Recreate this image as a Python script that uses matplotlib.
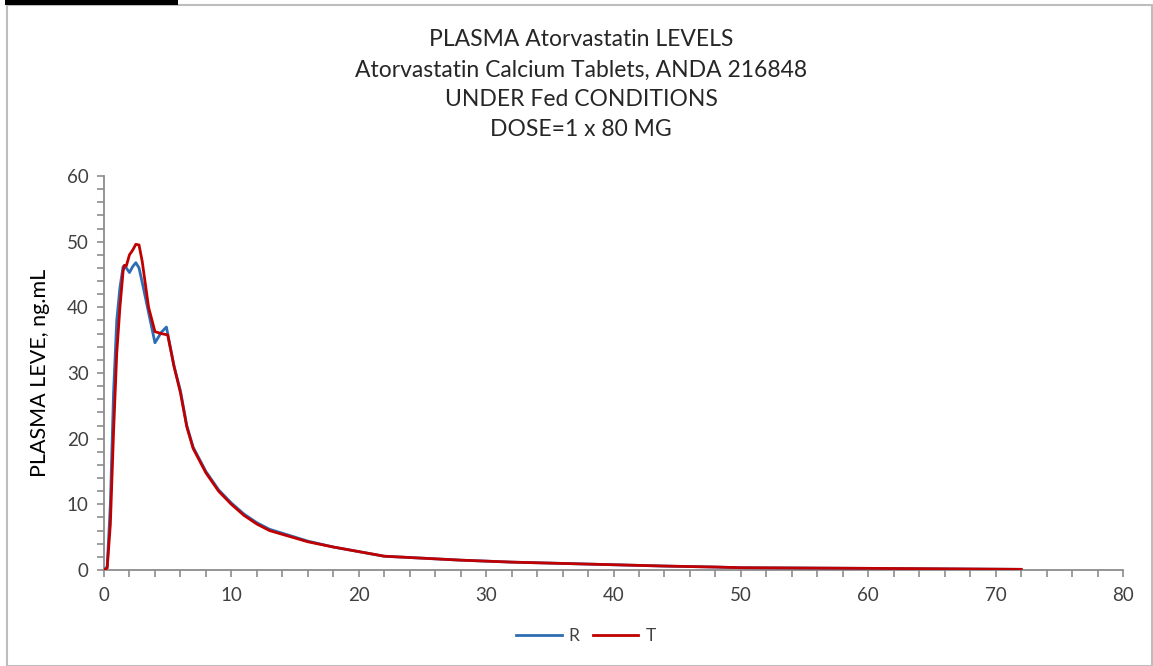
import matplotlib
matplotlib.use('Agg')
import matplotlib.pyplot as plt
from matplotlib.ticker import MultipleLocator
from matplotlib.patches import Rectangle

plt.rcParams['font.family'] = ['Lato', 'DejaVu Sans']

# time points (h)
time_r = [0, 0.25, 0.5, 0.75, 1.0, 1.25, 1.5, 1.75, 2.0, 2.25, 2.5, 2.75, 3.0, 3.5,
          4.0, 4.5, 4.9, 5.5, 6.0, 6.5, 7.0, 8.0, 9.0, 10, 11, 12, 13, 16, 18, 20,
          22, 24, 28, 32, 36, 40, 44, 48, 50, 60, 72]
conc_r = [0, 0.5, 10, 27, 38, 43, 46.2, 46.0, 45.3, 46.2, 46.8, 46.0, 43.8, 39.2,
          34.6, 36.2, 37.0, 31, 27.3, 22, 18.7, 15.0, 12.2, 10.2, 8.5, 7.2, 6.2, 4.4, 3.5, 2.8,
          2.1, 1.9, 1.5, 1.2, 1.0, 0.8, 0.6, 0.45, 0.35, 0.25, 0.1]

time_t = [0, 0.25, 0.5, 0.75, 1.0, 1.25, 1.5, 1.6, 1.75, 2.0, 2.25, 2.5, 2.75, 3.0, 3.5,
          4.0, 4.5, 5.0, 5.5, 6.0, 6.5, 7.0, 8.0, 9.0, 10, 11, 12, 13, 16, 18, 20,
          22, 24, 28, 32, 36, 40, 44, 48, 50, 60, 72]
conc_t = [0, 0.3, 7, 21, 33, 40, 45.5, 46.4, 46.3, 48.0, 48.7, 49.6, 49.5, 47.0, 40.0,
          36.3, 36.0, 35.8, 31, 27, 21.8, 18.5, 14.8, 12.0, 10.0, 8.3, 7.0, 6.0, 4.3, 3.5, 2.8,
          2.1, 1.9, 1.5, 1.2, 1.0, 0.8, 0.6, 0.45, 0.35, 0.25, 0.1]

title_lines = ["PLASMA Atorvastatin LEVELS",
               "Atorvastatin Calcium Tablets, ANDA 216848",
               "UNDER Fed CONDITIONS",
               "DOSE=1 x 80 MG"]

grey = '#8c8c8c'
text_col = '#404040'

fig = plt.figure(figsize=(11.53, 6.66), dpi=100)
ax = fig.add_axes([104/1153, 1-570/666, (1123-104)/1153, (570-176)/666])

ax.plot(time_r, conc_r, color='#2e6db4', lw=2.0, label='R', zorder=3)
ax.plot(time_t, conc_t, color='#c00000', lw=2.0, label='T', zorder=4)

ax.set_xlim(0, 80)
ax.set_ylim(0, 60)
ax.xaxis.set_major_locator(MultipleLocator(10))
ax.xaxis.set_minor_locator(MultipleLocator(2))
ax.yaxis.set_major_locator(MultipleLocator(10))
ax.yaxis.set_minor_locator(MultipleLocator(2))
for s in ['top', 'right']:
    ax.spines[s].set_visible(False)
for s in ['left', 'bottom']:
    ax.spines[s].set_color(grey)
    ax.spines[s].set_linewidth(1.3)
ax.tick_params(which='both', direction='out', length=5, width=1.2, color=grey,
               labelsize=13.5, labelcolor=text_col)
ax.tick_params(axis='x', pad=7)
ax.tick_params(axis='y', pad=6)
ax.set_ylabel('PLASMA LEVE, ng.mL', fontsize=15.5, color='black', labelpad=12)

# one text per title line so the spacing matches
for i, line in enumerate(title_lines):
    fig.text(581/1153, 1-(40 + 30*i)/666, line, ha='center', va='center',
             fontsize=16.5, color='#262626')

ax.legend(loc='center', bbox_to_anchor=(586/1153, 1-636/666),
          bbox_transform=fig.transFigure, ncol=2, frameon=False,
          fontsize=12.5, handlelength=2.6, columnspacing=0.8, handletextpad=0.4)
for t in ax.get_legend().get_texts():
    t.set_color(text_col)

# outer chart frame and the dark bar at the top left
fig.patches.append(Rectangle((7/1153, 0), 1 - 7/1153 - 1/1153, 1 - 5/666, transform=fig.transFigure,
                             fill=False, edgecolor='#bdbdbd', lw=1.5))
fig.patches.append(Rectangle((5/1153, 1-5/666), 173/1153, 5/666, transform=fig.transFigure,
                             color='black', lw=0))

fig.savefig('out.png', dpi=100, facecolor='white')
